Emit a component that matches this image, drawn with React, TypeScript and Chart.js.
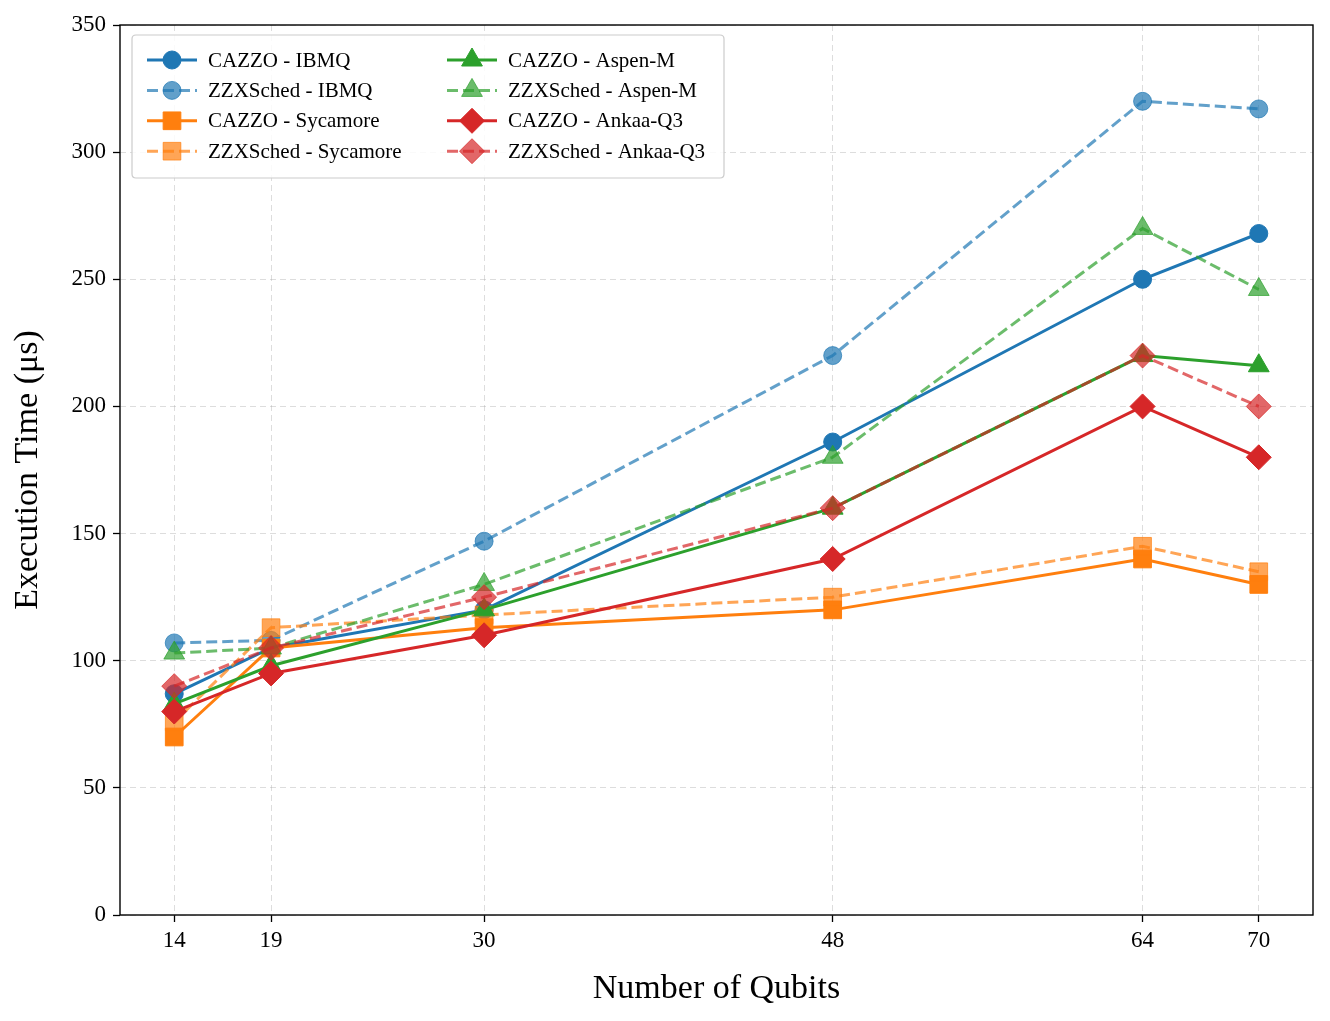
import React, { useEffect, useRef } from 'react';
import { Chart, registerables } from 'chart.js';

Chart.register(...registerables);

const qubits = [14, 19, 30, 48, 64, 70];
const cazzoIBMQ = [87, 105, 120, 186, 250, 268];
const zzxIBMQ = [107, 108, 147, 220, 320, 317];
const cazzoSycamore = [70, 105, 113, 120, 140, 130];
const zzxSycamore = [76, 113, 118, 125, 145, 135];
const cazzoAspen = [83, 98, 120, 160, 220, 216];
const zzxAspen = [103, 105, 130, 180, 270, 246];
const cazzoAnkaa = [80, 95, 110, 140, 200, 180];
const zzxAnkaa = [90, 105, 125, 160, 220, 200];

const seriesLabels = [
  'CAZZO - IBMQ',
  'ZZXSched - IBMQ',
  'CAZZO - Sycamore',
  'ZZXSched - Sycamore',
  'CAZZO - Aspen-M',
  'ZZXSched - Aspen-M',
  'CAZZO - Ankaa-Q3',
  'ZZXSched - Ankaa-Q3',
];
const seriesValues = [cazzoIBMQ, zzxIBMQ, cazzoSycamore, zzxSycamore, cazzoAspen, zzxAspen, cazzoAnkaa, zzxAnkaa];
const baseColors = ['31,119,180', '31,119,180', '255,127,14', '255,127,14', '44,160,44', '44,160,44', '214,39,40', '214,39,40'];
const markers = ['circle', 'circle', 'rect', 'rect', 'triangle', 'triangle', 'rectRot', 'rectRot'];
const markerRadius: Record<string, number> = { circle: 9, rect: 12.5, triangle: 12, rectRot: 12.5 };

const FONT = '"Liberation Serif", "Times New Roman", Times, serif';

function drawMarker(ctx: CanvasRenderingContext2D, style: string, x: number, y: number, r: number) {
  ctx.beginPath();
  if (style === 'circle') {
    ctx.arc(x, y, r, 0, Math.PI * 2);
  } else if (style === 'rect') {
    const s = r * Math.SQRT1_2;
    ctx.rect(x - s, y - s, 2 * s, 2 * s);
  } else if (style === 'triangle') {
    let a = 0;
    ctx.moveTo(x + Math.sin(a) * r, y - Math.cos(a) * r);
    a += (2 * Math.PI) / 3;
    ctx.lineTo(x + Math.sin(a) * r, y - Math.cos(a) * r);
    a += (2 * Math.PI) / 3;
    ctx.lineTo(x + Math.sin(a) * r, y - Math.cos(a) * r);
    ctx.closePath();
  } else {
    ctx.moveTo(x, y - r);
    ctx.lineTo(x + r, y);
    ctx.lineTo(x, y + r);
    ctx.lineTo(x - r, y);
    ctx.closePath();
  }
  ctx.fill();
  ctx.stroke();
}

const frameLegendPlugin = {
  id: 'frameLegend',
  afterDraw(chart: any) {
    const { ctx, chartArea: a } = chart;
    ctx.save();
    ctx.setLineDash([]);
    ctx.strokeStyle = '#000';
    ctx.lineWidth = 1.4;
    ctx.strokeRect(a.left, a.top, a.right - a.left, a.bottom - a.top);

    // legend box
    const bx = a.left + 12;
    const by = a.top + 10;
    const bw = 592;
    const bh = 143;
    const rr = 4;
    ctx.beginPath();
    ctx.moveTo(bx + rr, by);
    ctx.lineTo(bx + bw - rr, by);
    ctx.quadraticCurveTo(bx + bw, by, bx + bw, by + rr);
    ctx.lineTo(bx + bw, by + bh - rr);
    ctx.quadraticCurveTo(bx + bw, by + bh, bx + bw - rr, by + bh);
    ctx.lineTo(bx + rr, by + bh);
    ctx.quadraticCurveTo(bx, by + bh, bx, by + bh - rr);
    ctx.lineTo(bx, by + rr);
    ctx.quadraticCurveTo(bx, by, bx + rr, by);
    ctx.closePath();
    ctx.fillStyle = 'rgba(255,255,255,0.85)';
    ctx.fill();
    ctx.strokeStyle = '#cccccc';
    ctx.lineWidth = 1.2;
    ctx.stroke();

    ctx.font = `21px ${FONT}`;
    ctx.textBaseline = 'middle';
    ctx.textAlign = 'left';
    for (let i = 0; i < seriesLabels.length; i++) {
      const col = Math.floor(i / 4);
      const row = i % 4;
      const x0 = bx + 15 + col * 300;
      const y0 = by + 25 + row * 30.4;
      const dashed = i % 2 === 1;
      const c = dashed ? `rgba(${baseColors[i]},0.7)` : `rgb(${baseColors[i]})`;
      ctx.strokeStyle = c;
      ctx.fillStyle = c;
      ctx.lineWidth = 3;
      ctx.setLineDash(dashed ? [11, 5] : []);
      ctx.beginPath();
      ctx.moveTo(x0, y0);
      ctx.lineTo(x0 + 50, y0);
      ctx.stroke();
      ctx.setLineDash([]);
      ctx.lineWidth = 1;
      drawMarker(ctx, markers[i], x0 + 25, y0, markerRadius[markers[i]]);
      ctx.fillStyle = '#000';
      ctx.fillText(seriesLabels[i], x0 + 61, y0 + 1);
    }
    ctx.restore();
  },
};

export default function App() {
  const ref = useRef<HTMLCanvasElement | null>(null);
  useEffect(() => {
    if (!ref.current) return;
    const n = seriesLabels.length;
    const datasets = seriesLabels.map((label, i) => {
      const dashed = i % 2 === 1;
      const c = dashed ? `rgba(${baseColors[i]},0.7)` : `rgb(${baseColors[i]})`;
      return {
        label,
        data: qubits.map((q, j) => ({ x: q, y: seriesValues[i][j] })),
        borderColor: c,
        backgroundColor: c,
        borderWidth: 3,
        borderDash: dashed ? [11, 5] : [],
        pointStyle: markers[i],
        pointRadius: markerRadius[markers[i]],
        pointBorderWidth: 1,
        pointBorderColor: c,
        pointBackgroundColor: c,
        fill: false,
        tension: 0,
        order: n - i,
      };
    });
    const gridOpts = {
      color: 'rgba(170,170,170,0.4)',
      lineWidth: 1,
      drawTicks: true,
      tickLength: 7,
      tickColor: '#000',
      tickWidth: 1.3,
      tickBorderDash: [],
    };
    const chart = new Chart(ref.current, {
      type: 'line',
      data: { datasets: datasets as any },
      options: {
        animation: false,
        responsive: false,
        devicePixelRatio: 1,
        layout: { padding: { top: 25, right: 17, left: 0, bottom: 0 } },
        plugins: { legend: { display: false }, tooltip: { enabled: false } },
        scales: {
          x: {
            type: 'linear',
            min: 11.2,
            max: 72.8,
            afterBuildTicks: (scale: any) => {
              scale.ticks = qubits.map((v) => ({ value: v }));
            },
            afterFit: (scale: any) => {
              scale.height = 106;
            },
            grid: gridOpts as any,
            border: { display: false, dash: [6, 4] },
            ticks: {
              color: '#000',
              font: { family: FONT, size: 23 },
              padding: 5,
              maxRotation: 0,
              autoSkip: false,
              callback: (v: any) => String(v),
            },
            title: {
              display: true,
              text: 'Number of Qubits',
              color: '#000',
              font: { family: FONT, size: 34 },
              padding: { top: 0, bottom: 12 },
            },
          },
          y: {
            type: 'linear',
            min: 0,
            max: 350,
            afterFit: (scale: any) => {
              scale.width = 120;
            },
            grid: gridOpts as any,
            border: { display: false, dash: [6, 4] },
            ticks: {
              color: '#000',
              font: { family: FONT, size: 23 },
              stepSize: 50,
              padding: 7,
            },
            title: {
              display: true,
              text: 'Execution Time (μs)',
              color: '#000',
              font: { family: FONT, size: 34 },
              padding: { top: 8, bottom: 0 },
            },
          },
        },
      },
      plugins: [frameLegendPlugin],
    });
    return () => chart.destroy();
  }, []);
  return (
    <div style={{ position: 'absolute', left: 0, top: 0, width: 1330, height: 1021, background: '#fff' }}>
      <canvas ref={ref} width={1330} height={1021} style={{ width: 1330, height: 1021, display: 'block' }} />
    </div>
  );
}
